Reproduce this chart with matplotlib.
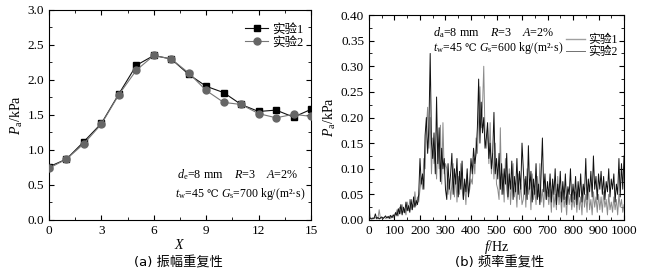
import numpy as np
import matplotlib
matplotlib.use("Agg")
import matplotlib.pyplot as plt
from matplotlib.ticker import MultipleLocator, FormatStrFormatter

plt.rcParams['font.family'] = ['Liberation Serif', 'Noto Sans CJK SC', 'DejaVu Sans']
plt.rcParams['mathtext.fontset'] = 'custom'
plt.rcParams['mathtext.rm'] = 'Liberation Serif'
plt.rcParams['mathtext.it'] = 'Liberation Serif:italic'
plt.rcParams['font.size'] = 9.5

# ---------------- data: (a) amplitude repeatability ----------------
X = list(range(16))
amp_exp1 = [0.76, 0.87, 1.12, 1.38, 1.80, 2.21, 2.35, 2.30, 2.08, 1.91, 1.82, 1.65, 1.55, 1.57, 1.47, 1.58]
amp_exp2 = [0.74, 0.87, 1.09, 1.37, 1.79, 2.14, 2.35, 2.30, 2.10, 1.85, 1.68, 1.65, 1.52, 1.46, 1.51, 1.48]

# ---------------- data: (b) frequency repeatability (Pa, 5 Hz step) ----------------
freq = list(range(0, 1001, 5))
spec_exp1_Pa = (
    [8, 3, 2, 4, 3, 12, 3, 5, 2, 4, 6, 3, 5, 8, 4, 7, 3, 9, 5, 10, 6] +
    [15, 8, 22, 12, 30, 10, 25, 14, 35, 18, 28, 15, 40, 20, 45, 25, 38, 30, 50, 120] +
    [70, 90, 60, 165, 200, 130, 180, 325, 150, 120, 170, 90, 240, 110, 180, 75, 140, 100, 120, 60] +
    [40, 110, 60, 90, 130, 50, 100, 70, 120, 45, 95, 60, 115, 40, 80, 55, 100, 45, 75, 120] +
    [90, 140, 110, 130, 180, 275, 150, 230, 170, 200, 140, 160, 190, 120, 150, 100, 130, 210, 90, 120] +
    [80, 130, 60, 110, 50, 100, 70, 130, 45, 90, 60, 115, 40, 85, 55, 120, 50, 95, 60, 150] +
    [100, 50, 85, 40, 145, 60, 95, 35, 80, 50, 110, 40, 70, 30, 90, 160, 55, 90, 40, 75] +
    [45, 90, 35, 80, 50, 100, 30, 70, 45, 95, 35, 75, 40, 90, 30, 65, 50, 100, 35, 70] +
    [40, 85, 30, 75, 45, 90, 35, 70, 50, 120, 40, 80, 55, 95, 45, 125, 60, 85, 40, 90] +
    [60, 95, 50, 85, 40, 75, 55, 100, 45, 80, 60, 90, 35, 70, 50, 120, 45, 110, 60, 125]
)
spec_exp2_Pa = (
    [30, 5, 3, 2, 4, 5, 2, 3, 20, 3, 4, 2, 6, 3, 5, 4, 8, 3, 6, 4, 12] +
    [10, 20, 8, 25, 12, 30, 15, 22, 10, 35, 18, 40, 20, 30, 25, 55, 28, 45, 35, 60] +
    [80, 60, 120, 100, 180, 220, 140, 200, 90, 160, 110, 130, 80, 150, 100, 185, 70, 190, 90, 110] +
    [100, 50, 80, 40, 70, 110, 45, 90, 35, 85, 50, 110, 60, 40, 70, 30, 90, 50, 60, 80] +
    [70, 120, 90, 160, 130, 200, 260, 180, 220, 300, 160, 140, 180, 110, 190, 90, 130, 80, 150, 70] +
    [60, 40, 180, 50, 90, 35, 120, 60, 40, 100, 30, 75, 110, 45, 65, 25, 90, 40, 70, 30] +
    [40, 80, 25, 100, 50, 70, 20, 90, 40, 60, 30, 85, 45, 110, 35, 60, 25, 75, 40, 55] +
    [30, 60, 15, 75, 25, 50, 20, 85, 30, 55, 15, 65, 25, 45, 10, 60, 30, 50, 20, 45] +
    [25, 55, 15, 60, 20, 45, 10, 65, 25, 50, 15, 70, 20, 40, 10, 55, 25, 45, 15, 50] +
    [20, 45, 15, 55, 25, 40, 10, 50, 20, 35, 15, 45, 20, 40, 10, 50, 25, 40, 15, 30]
)
spec_exp1 = np.array(spec_exp1_Pa) / 1000.0
spec_exp2 = np.array(spec_exp2_Pa) / 1000.0

legend_labels = ['实验1', '实验2']

fig = plt.figure(figsize=(6.47, 2.80), dpi=100)
fig.patch.set_facecolor('white')
renderer = fig.canvas.get_renderer()

def style_axes(ax):
    ax.tick_params(which='both', direction='in', top=True, right=True, labelsize=9.5)
    ax.tick_params(which='major', length=3.5, width=0.8)
    ax.tick_params(which='minor', length=2, width=0.6)
    for s in ax.spines.values():
        s.set_linewidth(0.8)

def chain_text(ax, x, y, segments):
    """Place text segments one after another on a common baseline."""
    cur = x
    inv = ax.transAxes.inverted()
    for seg, fam, fs, gap in segments:
        t = ax.text(cur, y, seg, transform=ax.transAxes, fontsize=fs,
                    family=fam, va='baseline', ha='left')
        bb = t.get_window_extent(renderer)
        cur = inv.transform((bb.x1 + gap, bb.y0))[0]

serif = ['Liberation Serif']
sym = ['DejaVu Serif']
cjk = ['Liberation Serif', 'Noto Sans CJK SC']
ann_fs = 8.7
ann_fs2 = 8.5

# ---------------- (a) ----------------
ax1 = fig.add_axes([0.0757, 0.2143, 0.405, 0.7500])
ax1.plot(X, amp_exp1, color='#111111', lw=0.8, marker='s', ms=4.5, mfc='#000000', mec='#000000',
         label=legend_labels[0], zorder=3)
ax1.plot(X, amp_exp2, color='#777777', lw=0.8, marker='o', ms=5, mfc='#666666', mec='#666666',
         label=legend_labels[1], zorder=4)
ax1.set_xlim(0, 15)
ax1.set_ylim(0, 3.0)
ax1.xaxis.set_major_locator(MultipleLocator(3))
ax1.xaxis.set_minor_locator(MultipleLocator(1.5))
ax1.yaxis.set_major_locator(MultipleLocator(0.5))
ax1.yaxis.set_minor_locator(MultipleLocator(0.25))
ax1.yaxis.set_major_formatter(FormatStrFormatter('%.1f'))
style_axes(ax1)
ax1.set_xlabel('$X$', fontsize=10, labelpad=1)
ax1.set_ylabel(r'$P_{\rm a}$/kPa', fontsize=10, labelpad=2)
ax1.legend(loc='upper right', bbox_to_anchor=(1.0, 0.975), frameon=False,
           handlelength=1.8, handletextpad=0.3, labelspacing=0.1, borderaxespad=0.25,
           prop={'family': cjk, 'size': 9})
chain_text(ax1, 0.489, 0.20, [(r'$d_{\rm e}$=8 mm    $R$=3    $A$=2%', serif, ann_fs, 0)])
chain_text(ax1, 0.48, 0.11, [(r'$t_{\rm w}$=45', serif, ann_fs2, 2), ('℃', sym, 7.5, 3),
                             (r'$G_{\rm s}$=700 kg/(m²·s)', serif, ann_fs2, 0)])
fig.text(0.276, 0.062, '(a) 振幅重复性', ha='center', va='center', fontsize=9.5,
         family=['DejaVu Sans', 'Noto Sans CJK SC'])

# ---------------- (b) ----------------
ax2 = fig.add_axes([0.5703, 0.2143, 0.3942, 0.7321])
ax2.plot(freq, spec_exp2, color='#8a8a8a', lw=0.7, zorder=2)
ax2.plot(freq, spec_exp1, color='#111111', lw=0.7, zorder=3)
ax2.set_xlim(0, 1000)
ax2.set_ylim(0, 0.40)
ax2.xaxis.set_major_locator(MultipleLocator(100))
ax2.xaxis.set_minor_locator(MultipleLocator(50))
ax2.yaxis.set_major_locator(MultipleLocator(0.05))
ax2.yaxis.set_minor_locator(MultipleLocator(0.025))
ax2.yaxis.set_major_formatter(FormatStrFormatter('%.2f'))
style_axes(ax2)
ax2.set_xlabel(r'$f$/Hz', fontsize=10, labelpad=1)
ax2.set_ylabel(r'$P_{\rm a}$/kPa', fontsize=10, labelpad=2)
h1, = ax2.plot([], [], color='#a0a0a0', lw=1.0)
h2, = ax2.plot([], [], color='#707070', lw=0.7)
ax2.legend([h1, h2], legend_labels, loc='upper right', bbox_to_anchor=(1.0, 0.94),
           frameon=False, handlelength=1.6, handletextpad=0.3, labelspacing=0.05,
           borderaxespad=0.15, prop={'family': cjk, 'size': 8.5})
chain_text(ax2, 0.252, 0.898, [(r'$d_{\rm a}$=8 mm    $R$=3    $A$=2%', serif, ann_fs, 0)])
chain_text(ax2, 0.252, 0.824, [(r'$t_{\rm w}$=45', serif, ann_fs2, 2), ('℃', sym, 7.5, 2.5),
                               (r'$G_{\rm s}$=600 kg/(m²·s)', serif, ann_fs2, 0)])
fig.text(0.772, 0.062, '(b) 频率重复性', ha='center', va='center', fontsize=9.5,
         family=['DejaVu Sans', 'Noto Sans CJK SC'])

fig.savefig('out.png', dpi=100, facecolor='white')
